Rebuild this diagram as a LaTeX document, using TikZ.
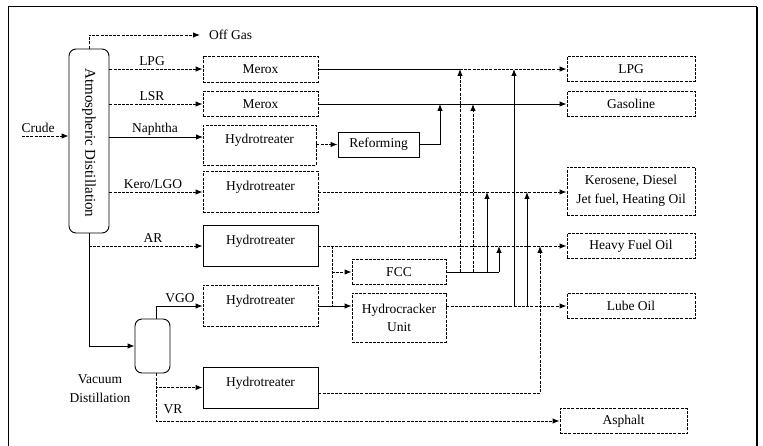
\documentclass[tikz,border=0pt]{standalone}
\usepackage{fontspec}
\setmainfont{Liberation Serif}
\usetikzlibrary{arrows.meta}
\begin{document}
\begin{tikzpicture}[x=1pt,y=-1pt,
  font=\fontsize{13.5}{16}\selectfont,
  ln/.style={line width=0.9pt},
  dl/.style={line width=0.9pt, dash pattern=on 3pt off 1.2pt},
  arr/.style={-{Latex[length=7pt,width=5.5pt]}},
  box/.style={draw, line width=0.9pt, dash pattern=on 3pt off 1.2pt, inner sep=0pt, align=center},
  sbox/.style={draw, line width=0.9pt, inner sep=0pt, align=center},
  topt/.style={text height=9pt, text depth=12pt},
  lab/.style={inner sep=0pt, anchor=base},
  column/.style={draw, line width=0.9pt, rounded corners=7pt, inner sep=0pt}
]
\useasboundingbox (0,0) rectangle (763,446);
% frame
\draw[line width=1pt] (8,446) -- (8,7) -- (757,7);
\draw[line width=1.6pt] (757,7) -- (757,446);

% columns
\node[column, minimum width=40pt, minimum height=184pt] (col) at (89,141) {};
\node[rotate=-90, inner sep=0pt, font=\fontsize{15}{18}\selectfont] (coltext) at (89,143) {Atmospheric Distillation};
\node[column, minimum width=35pt, minimum height=54pt] (vac) at (152.5,346) {};
\node[lab] (vac1) at (100,383) {Vacuum};
\node[lab] (vac2) at (100,402) {Distillation};

% process units
\node[box, minimum width=115pt, minimum height=26pt] (m1) at (260.5,69) {Merox};
\node[box, minimum width=115pt, minimum height=25pt] (m2) at (260.5,104) {Merox};
\node[box, topt, minimum width=113pt, minimum height=40pt] (ht1) at (259.5,145) {Hydrotreater};
\node[box, topt, minimum width=115pt, minimum height=41pt] (ht2) at (260.5,192) {Hydrotreater};
\node[sbox, topt, minimum width=115pt, minimum height=41pt] (ht3) at (260.5,246) {Hydrotreater};
\node[box, topt, minimum width=115pt, minimum height=41pt] (ht4) at (260.5,306) {Hydrotreater};
\node[sbox, topt, minimum width=115pt, minimum height=41pt] (ht5) at (260.5,387.5) {Hydrotreater};
\node[sbox, minimum width=81pt, minimum height=25pt] (ref) at (378.5,144.5) {Reforming};
\node[box, minimum width=94pt, minimum height=25pt] (fcc) at (399,272) {FCC};
\node[box, minimum width=94pt, minimum height=49pt, align=center] (hcu) at (399,317.5) {Hydrocracker\\[2pt]Unit};

% products
\node[box, minimum width=128pt, minimum height=25pt] (plpg) at (631,69) {LPG};
\node[box, minimum width=128pt, minimum height=25pt] (pgas) at (631,104) {Gasoline};
\node[box, minimum width=128pt, minimum height=48pt, align=center] (pkero) at (631,191) {Kerosene, Diesel\\[3pt]Jet fuel, Heating Oil};
\node[box, minimum width=128pt, minimum height=25pt] (phfo) at (631,246) {Heavy Fuel Oil};
\node[box, minimum width=128pt, minimum height=25pt] (plube) at (631,306) {Lube Oil};
\node[box, minimum width=127pt, minimum height=25pt] (pasp) at (623.5,421) {Asphalt};

% off gas
\coordinate (og) at (200,35);
\node[inner sep=0pt, anchor=west] (offgas) at (209,35) {Off Gas};
\draw[dl,arr] (col.north) |- (og);

% crude
\coordinate (cr) at (22,136);
\node[lab] (crude) at (38,133) {Crude};
\draw[dl,arr] (cr) -- (col.west |- cr);

% atmospheric cuts
\draw[dl,arr] (col.east |- m1.west) -- (m1.west);
\node[lab] (llpg) at (152,66) {LPG};
\draw[dl,arr] (col.east |- m2.west) -- (m2.west);
\node[lab] (llsr) at (152,101) {LSR};
\coordinate (nap) at (203,137);
\draw[ln,arr] (col.east |- nap) -- (nap);
\node[lab] (lnap) at (155,133) {Naphtha};
\draw[dl,arr] (col.east |- ht2.west) -- (ht2.west);
\node[lab] (lkero) at (153,189) {Kero/LGO};
\coordinate (arj) at (89,246);
\draw[dl,arr] (arj) -- (ht3.west);
\node[lab] (lar) at (153,243) {AR};
\draw[ln,arr] (col.south) |- (vac.west);

% vacuum cuts
\coordinate (vt) at ([xshift=3.5pt]vac.north);
\coordinate (vb) at ([xshift=3.5pt]vac.south);
\draw[ln,arr] (vt) |- (ht4.west);
\node[lab] (lvgo) at (180,303) {VGO};
\draw[dl,arr] (vb) |- (ht5.west);
\draw[dl,arr] (vb) |- (pasp.west);
\node[lab] (lvr) at (173,413) {VR};

% naphtha to reforming
\draw[dl,arr] (ht1.east |- ref.west) -- (ref.west);
\coordinate (r1) at (440,104);
\draw[ln,arr] (ref.east) -| (r1);

% main product headers
\coordinate (j1) at (460,69);
\draw[ln] (m1.east) -- (j1);
\draw[dl,arr] (j1) -- (plpg.west);
\draw[ln,arr] (m2.east) -- (pgas.west);
\draw[dl,arr] (ht2.east) -- (pkero.west |- ht2.east);
\draw[dl,arr] (ht3.east) -- (phfo.west);

% split to FCC / HCU
\coordinate (s1) at (332,246);
\coordinate (s2) at (332,306);
\draw[dl] (s1) -- (s2);
\draw[dl,arr] (s1 |- fcc.west) -- (fcc.west);
\draw[ln,arr] (ht4.east) -- (hcu.west |- ht4.east);

% FCC outputs
\coordinate (f4) at (499,272);
\draw[ln] (fcc.east) -- (f4);
\coordinate (f1) at (460,272);
\coordinate (f2) at (473,272);
\coordinate (f3) at (487,272);
\draw[dl,arr] (f1) -- (460,69);
\draw[dl,arr] (f2) -- (473,104);
\draw[ln,arr] (f3) -- (487,192);
\draw[ln,arr] (f4) -- (499,246);

% HCU outputs
\draw[dl,arr] (hcu.east |- plube.west) -- (plube.west);
\coordinate (h1) at (514,306);
\coordinate (h2) at (527,306);
\draw[ln,arr] (h1) -- (514,69);
\draw[ln,arr] (h2) -- (527,192);

% VR hydrotreater output
\coordinate (v1) at (540,246);
\draw[dl,arr] (ht5.east |- 0,393) -| (v1);
\end{tikzpicture}
\end{document}
